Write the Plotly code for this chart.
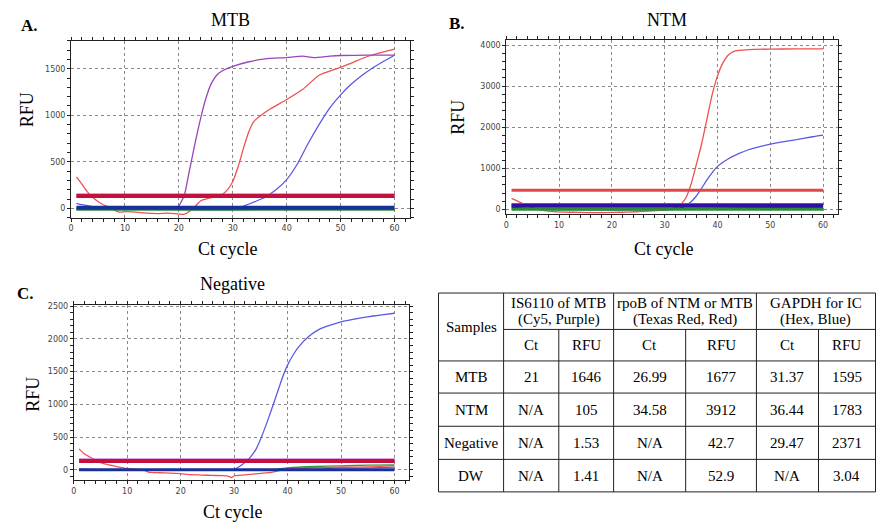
import plotly.graph_objects as go

# ---------------- data ----------------
# Panel A (MTB)
a_purple_x = [1, 5, 10, 15, 19, 20, 21, 22, 23, 24, 25, 26, 27, 28, 30, 33, 36, 40, 43, 45, 48, 50, 55, 60]
a_purple_y = [5, 0, -5, -5, 0, 30, 140, 420, 700, 960, 1180, 1340, 1430, 1475, 1525, 1575, 1605, 1620, 1635, 1620, 1635, 1642, 1645, 1645]
a_red_x = [1, 2, 3, 4, 5, 6, 7, 8, 9, 10, 12, 14, 16, 18, 20, 21, 22, 23, 24, 25, 26, 27, 28, 29, 30, 31, 32, 33, 34, 35, 37, 40, 43, 46, 49, 52, 54, 56, 58, 60]
a_red_y = [340, 260, 180, 120, 75, 40, 15, -15, -40, -35, -40, -50, -55, -50, -60, -62, -30, 20, 80, 100, 115, 130, 150, 200, 290, 450, 650, 830, 940, 990, 1070, 1170, 1280, 1430, 1495, 1560, 1610, 1650, 1680, 1710]
a_blue_x = [1, 2, 4, 6, 8, 10, 15, 20, 25, 30, 31, 32, 34, 36, 38, 40, 42, 44, 46, 48, 50, 52, 54, 56, 58, 60]
a_blue_y = [55, 40, 20, 5, -5, -8, -10, -10, -12, -10, 0, 25, 70, 120, 200, 310, 480, 700, 900, 1080, 1220, 1335, 1430, 1510, 1580, 1645]
a_green_x = [1, 10, 20, 30, 40, 50, 60]
a_green_y = [-5, -8, -10, -12, -8, -5, -5]
a_thresholds = {"purple": 139, "red": 134, "blue": 7, "green": -8}

# Panel B (NTM)
b_red_x = [1, 3, 5, 7, 9, 11, 14, 17, 20, 23, 26, 29, 31, 32, 33, 34, 35, 36, 37, 38, 39, 40, 41, 42, 43, 44, 46, 50, 55, 60]
b_red_y = [270, 150, 40, -20, -50, -60, -70, -75, -70, -60, -45, -20, 10, 40, 120, 280, 620, 1100, 1600, 2200, 2800, 3250, 3560, 3750, 3840, 3870, 3890, 3900, 3905, 3905]
b_blue_x = [1, 5, 10, 15, 20, 25, 30, 32, 33, 34, 35, 36, 37, 38, 39, 40, 42, 44, 46, 48, 50, 52, 55, 58, 60]
b_blue_y = [60, 10, 0, -5, -5, -5, -5, 10, 40, 100, 190, 330, 520, 720, 900, 1050, 1230, 1360, 1460, 1530, 1590, 1640, 1700, 1770, 1810]
b_green_x = [1, 10, 20, 30, 40, 50, 60]
b_green_y = [10, 0, -5, 0, 30, 50, 55]
b_thresholds = {"red": 469, "purple": 112, "blue": 92, "green": 10}

# Panel C (Negative)
c_blue_x = [1, 5, 10, 15, 20, 25, 28, 30, 31, 32, 33, 34, 35, 36, 37, 38, 39, 40, 41, 42, 44, 46, 48, 50, 52, 54, 56, 58, 60]
c_blue_y = [10, 0, 0, 0, 0, 0, 0, 5, 50, 110, 190, 300, 480, 690, 920, 1160, 1400, 1600, 1750, 1870, 2040, 2150, 2210, 2260, 2295, 2325, 2350, 2372, 2392]
c_red_x = [1, 2, 3, 4, 5, 6, 8, 10, 12, 13, 14, 16, 18, 20, 22, 24, 26, 28, 29, 29.5, 30, 31, 33, 35, 37, 38, 40, 45, 50, 55, 60]
c_red_y = [320, 240, 195, 150, 110, 85, 50, 20, 5, 0, -35, -45, -50, -60, -75, -80, -86, -90, -100, -120, -95, -85, -70, -55, -40, -20, 10, 30, 40, 45, 65]
c_green_x = [1, 10, 20, 30, 37, 40, 45, 50, 55, 60]
c_green_y = [0, 0, -5, -5, 0, 30, 50, 60, 70, 75]
c_purple_x = [1, 20, 38, 42, 45, 48, 50, 53, 56, 60]
c_purple_y = [0, 0, 0, 25, 35, 20, 35, 25, 30, 40]
c_thresholds = {"purple": 141, "red": 136, "blue": 2}

panel_titles = ["MTB", "NTM", "Negative"]
panel_letters = ["A.", "B.", "C."]
x_title = "Ct cycle"
y_title = "RFU"

# Table
table_samples = ["MTB", "NTM", "Negative", "DW"]
table_groups = ["IS6110 of MTB", "rpoB of NTM or MTB", "GAPDH for IC"]
table_dyes = ["(Cy5, Purple)", "(Texas Red, Red)", "(Hex, Blue)"]
table_sub = ["Ct", "RFU"]
is6110_ct = ["21", "N/A", "N/A", "N/A"]
is6110_rfu = ["1646", "105", "1.53", "1.41"]
rpob_ct = ["26.99", "34.58", "N/A", "N/A"]
rpob_rfu = ["1677", "3912", "42.7", "52.9"]
gapdh_ct = ["31.37", "36.44", "29.47", "N/A"]
gapdh_rfu = ["1595", "1783", "2371", "3.04"]

# ---------------- styling ----------------
W, H = 876, 525
C_PURPLE = "#9a45b8"
C_RED = "#ef5050"
C_BLUE = "#5a5ae6"
C_GREEN = "#2e9a3e"
T_PURPLE = "#c040c8"
T_RED = "#c4103e"
T_RED_B = "#e04848"
T_BLUE = "#18309a"
T_NAVY = "#3010a0"
T_GREEN = "#2a8a3a"
SERIF = "Liberation Serif, Times New Roman, serif"


def px(x):
    return x / W


def py(y):
    return 1 - y / H


fig = go.Figure()


def curve(x, y, color, ax):
    fig.add_trace(go.Scatter(x=x, y=y, mode="lines", line=dict(color=color, width=1.3, shape="spline", smoothing=0.5),
                             xaxis="x" + ax, yaxis="y" + ax, showlegend=False, hoverinfo="skip"))


def thr(val, color, ax, width=4):
    fig.add_trace(go.Scatter(x=[1, 60], y=[val, val], mode="lines", line=dict(color=color, width=width),
                             xaxis="x" + ax, yaxis="y" + ax, showlegend=False, hoverinfo="skip"))


# Panel A
curve(a_green_x, a_green_y, C_GREEN, "")
curve(a_blue_x, a_blue_y, C_BLUE, "")
curve(a_red_x, a_red_y, C_RED, "")
curve(a_purple_x, a_purple_y, C_PURPLE, "")
thr(a_thresholds["green"], T_GREEN, "", 3)
thr(a_thresholds["blue"], T_BLUE, "", 4)
thr(a_thresholds["purple"], T_PURPLE, "", 4)
thr(a_thresholds["red"], T_RED, "", 4)

# Panel B
curve(b_green_x, b_green_y, C_GREEN, "2")
curve(b_blue_x, b_blue_y, C_BLUE, "2")
curve(b_red_x, b_red_y, C_RED, "2")
thr(b_thresholds["green"], T_GREEN, "2", 3)
thr(b_thresholds["purple"], T_PURPLE, "2", 4)
thr(b_thresholds["blue"], T_NAVY, "2", 4)
thr(b_thresholds["red"], T_RED_B, "2", 3)

# Panel C
curve(c_green_x, c_green_y, C_GREEN, "3")
curve(c_purple_x, c_purple_y, C_PURPLE, "3")
curve(c_red_x, c_red_y, C_RED, "3")
curve(c_blue_x, c_blue_y, C_BLUE, "3")
thr(c_thresholds["purple"], T_PURPLE, "3", 4)
thr(c_thresholds["red"], T_RED, "3", 4)
thr(c_thresholds["blue"], T_BLUE, "3", 3)


def xaxis(domain, rng, anchor):
    return dict(domain=domain, range=rng, anchor=anchor, tickmode="linear", tick0=0, dtick=10,
                showgrid=True, gridcolor="#8a8a8a", griddash="dot", gridwidth=1, zeroline=False,
                showline=True, linecolor="#222", linewidth=1, mirror="ticks",
                ticks="outside", ticklen=3, tickcolor="#222",
                minor=dict(dtick=2, tick0=0, ticks="outside", ticklen=3, tickcolor="#222", showgrid=False),
                tickfont=dict(family="DejaVu Sans", size=8, color="#444"), fixedrange=True)


def yaxis(domain, rng, anchor, dt):
    return dict(domain=domain, range=rng, anchor=anchor, tickmode="linear", tick0=0, dtick=dt,
                showgrid=True, gridcolor="#8a8a8a", griddash="dot", gridwidth=1, zeroline=False,
                showline=True, linecolor="#222", linewidth=1, mirror="ticks",
                ticks="outside", ticklen=3, tickcolor="#222",
                minor=dict(dtick=dt / 5, tick0=0, ticks="outside", ticklen=3, tickcolor="#222", showgrid=False),
                tickfont=dict(family="DejaVu Sans", size=8, color="#444"), fixedrange=True)


fig.update_layout(
    width=W, height=H, autosize=False,
    margin=dict(l=0, r=0, t=0, b=0),
    paper_bgcolor="white", plot_bgcolor="white",
    showlegend=False,
    xaxis=xaxis([px(68.3), px(408)], [0, 62.8], "y"),
    yaxis=yaxis([py(216), py(38)], [-100, 1800], "x", 500),
    xaxis2=xaxis([px(505), px(838.3)], [0, 62.9], "y2"),
    yaxis2=yaxis([py(212.3), py(37.7)], [-110, 4110], "x2", 1000),
    xaxis3=xaxis([px(71), px(407.3)], [0, 62.7], "y3"),
    yaxis3=yaxis([py(480), py(303.3)], [-160, 2525], "x3", 500),
)

ann = []


def text(x, y, s, size, bold=False, angle=0, xanchor="center"):
    ann.append(dict(x=px(x), y=py(y), xref="paper", yref="paper", text=("<b>%s</b>" % s) if bold else s,
                    showarrow=False, textangle=angle, xanchor=xanchor, yanchor="middle",
                    font=dict(family=SERIF, size=size, color="black")))


# panel titles / letters / axis titles
text(228, 17, panel_titles[0], 18)
text(666, 17, panel_titles[1], 18)
text(230, 283, panel_titles[2], 18)
text(16, 23, panel_letters[0], 17, bold=True, xanchor="left")
text(446, 21, panel_letters[1], 17, bold=True, xanchor="left")
text(12, 292, panel_letters[2], 17, bold=True, xanchor="left")
text(225, 247, x_title, 18)
text(663, 247, x_title, 18)
text(230, 512, x_title, 18)
text(24, 107, y_title, 18, angle=-90)
text(457, 115, y_title, 18, angle=-90)
text(30, 393, y_title, 18, angle=-90)

# ---------------- table ----------------
col_edges = [437, 502.3, 557.7, 612.7, 685, 756, 818.3, 875.5]
row_edges = [291.7, 328.3, 360, 392.3, 425.7, 459, 491.7]
shapes = []


def seg(x0, y0, x1, y1):
    shapes.append(dict(type="line", xref="paper", yref="paper", x0=px(x0), y0=py(y0), x1=px(x1), y1=py(y1),
                       line=dict(color="#222", width=1)))


# outer border
seg(col_edges[0], row_edges[0], col_edges[-1], row_edges[0])
seg(col_edges[0], row_edges[-1], col_edges[-1], row_edges[-1])
for i, xe in enumerate(col_edges):
    top = row_edges[0] if i in (0, 1, 3, 5, 7) else row_edges[1]
    seg(xe, top, xe, row_edges[-1])
seg(col_edges[1], row_edges[1], col_edges[-1], row_edges[1])
for ye in row_edges[2:-1]:
    seg(col_edges[0], ye, col_edges[-1], ye)

TF = 15
text((col_edges[0] + col_edges[1]) / 2, (row_edges[0] + row_edges[2]) / 2, "Samples", TF)
for g in range(3):
    cx = (col_edges[1 + 2 * g] + col_edges[3 + 2 * g]) / 2
    text(cx, row_edges[0] + 10, table_groups[g], TF)
    text(cx, row_edges[0] + 27, table_dyes[g], TF)
    for s in range(2):
        text((col_edges[1 + 2 * g + s] + col_edges[2 + 2 * g + s]) / 2, (row_edges[1] + row_edges[2]) / 2, table_sub[s], TF)

columns = [table_samples, is6110_ct, is6110_rfu, rpob_ct, rpob_rfu, gapdh_ct, gapdh_rfu]
for c, col in enumerate(columns):
    cx = (col_edges[c] + col_edges[c + 1]) / 2
    for r, val in enumerate(col):
        cy = (row_edges[r + 2] + row_edges[r + 3]) / 2
        text(cx, cy, val, TF)

fig.update_layout(annotations=ann, shapes=shapes)
fig.write_html("out.html",
               config={"displayModeBar": False, "staticPlot": True},
               post_script="document.body.style.margin='0';document.body.style.overflow='hidden';")
